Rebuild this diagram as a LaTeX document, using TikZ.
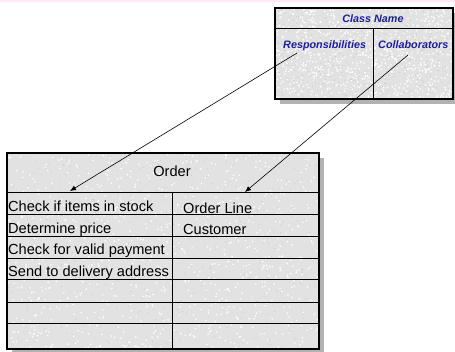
\documentclass[tikz,border=0pt]{standalone}
\usepackage{fontspec}
\setmainfont{Liberation Sans}
\usetikzlibrary{arrows.meta}

\definecolor{cardblue}{RGB}{28,28,165}
\definecolor{granite}{RGB}{226,226,226}
\definecolor{topband}{RGB}{253,234,246}

% grainy card surface between two corners
\newcommand{\speckle}[4]{%
  \begin{scope}
    \clip (#1,#2) rectangle (#3,#4);
    \foreach \i in {1,...,900}
      \fill[white] ({#1+rnd*(#3-#1)},{#2+rnd*(#4-#2)}) circle (0.9pt);
    \foreach \i in {1,...,500}
      \fill[gray!45] ({#1+rnd*(#3-#1)},{#2+rnd*(#4-#2)}) circle (0.5pt);
  \end{scope}}

\begin{document}
\begin{tikzpicture}[x=1pt,y=-1pt]
  \tikzstyle{cls}=[text=cardblue,font=\fontsize{10.8}{12}\selectfont\bfseries\itshape,inner sep=0pt]
  \tikzstyle{entry}=[font=\fontsize{14.6}{17}\selectfont,anchor=base west,inner sep=0pt]
  \tikzstyle{shadow}=[fill=gray!60]
  \tikzstyle{card}=[fill=granite]
  \tikzstyle{rule}=[line width=0.9pt]
  \tikzstyle{pointer}=[line width=0.6pt,-{Latex[length=6pt,width=5pt]}]
  \pgfmathsetseed{11}
  \useasboundingbox (0,0) rectangle (455,351);
  \fill[topband] (0,0) rectangle (455,2);

  % the blank class card
  \fill[shadow] (280,13) rectangle (458,104);
  \fill[card] (275,8) rectangle (453,99);
  \speckle{275}{8}{453}{99}
  \draw[rule] (275,28) -- (453,28);
  \draw[rule] (373,28) -- (373,99);
  \draw[line width=1.2pt] (275,8) rectangle (453,99);
  \node[cls] (clsname) at (373,19) {Class Name};
  \node[cls,anchor=base west] (resp) at (283,48) {Responsibilities};
  \node[cls,anchor=base west] (collab) at (378,48) {Collaborators};

  % the Order card
  \fill[shadow] (12,158) rectangle (324,354);
  \fill[card] (7,153) rectangle (319,349);
  \speckle{7}{153}{319}{349}
  \foreach \y in {192,214,236,258,279,302,323}
    \draw[rule] (7,\y) -- (319,\y);
  \draw[rule] (172,192) -- (172,349);
  \draw[line width=1.2pt] (7,153) rectangle (319,349);
  \node[font=\fontsize{14.6}{17}\selectfont] (order) at (172,171) {Order};
  \node[entry] (stock) at (8,211) {Check if items in stock};
  \node[entry] (price) at (8,233) {Determine price};
  \node[entry] (payment) at (8,254) {Check for valid payment};
  \node[entry] (delivery) at (8,276) {Send to delivery address};
  \node[entry] (orderline) at (183,213) {Order Line};
  \node[entry] (customer) at (183,234) {Customer};

  \coordinate (respfrom) at (297,53);
  \coordinate (collabfrom) at (408,55);
  \coordinate (respto) at (70,191);
  \coordinate (collabto) at (245,192);
  \draw[pointer] (respfrom) -- (respto);
  \draw[pointer] (collabfrom) -- (collabto);
\end{tikzpicture}
\end{document}
